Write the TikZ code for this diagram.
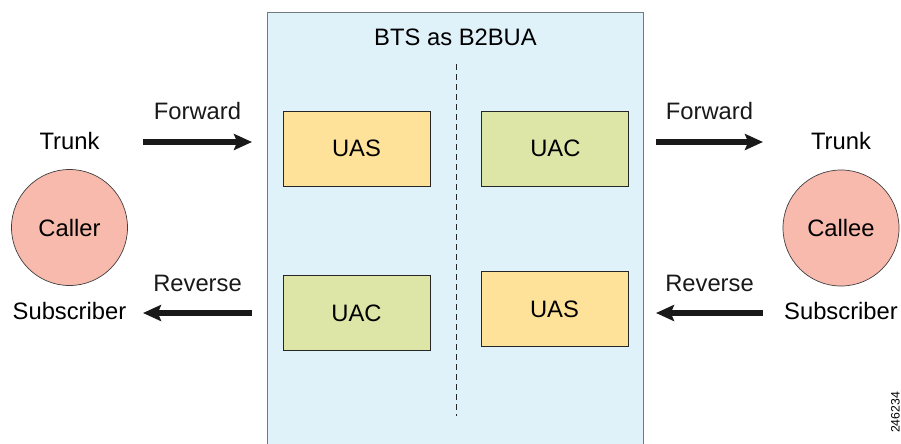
\documentclass[tikz,border=0pt]{standalone}
\usepackage{fontspec}
\setmainfont{Liberation Sans}
\usepackage{tikz}
\usetikzlibrary{arrows.meta,positioning}
\definecolor{btsblue}{RGB}{223,242,250}
\definecolor{btsedge}{RGB}{112,122,128}
\definecolor{uasyellow}{RGB}{255,226,153}
\definecolor{uacgreen}{RGB}{222,230,167}
\definecolor{partypink}{RGB}{248,186,172}
\tikzstyle{lbl} = [inner sep=0pt, font=\fontsize{16.9}{20}\selectfont]
\tikzstyle{uabox} = [rectangle, minimum width=3.675cm, minimum height=1.875cm, text centered, draw=black!85, line width=0.6pt, font=\fontsize{16.9}{20}\selectfont]
\tikzstyle{party} = [circle, minimum size=2.9cm, inner sep=0pt, draw=black!75, fill=partypink, line width=0.5pt, font=\fontsize{16.9}{20}\selectfont]
\tikzstyle{flow} = [line width=0.13cm, -{Stealth[length=0.45cm,width=0.4cm,inset=0.08cm]}, color=black!90]

\begin{document}
\begin{tikzpicture}[x=0.025cm, y=-0.025cm, node distance=0.4cm]
\clip (0,0) rectangle (901,443);
% BTS box
\node[rectangle, anchor=north west, minimum width=9.4cm, minimum height=11.4cm, draw=btsedge, fill=btsblue, line width=0.6pt] (bts) at (267,12) {};
\node[lbl, below=0.425cm of bts.north] (title) {BTS as B2BUA};
\coordinate (dtop) at (456,64);
\coordinate (dbot) at (456,416);
\draw[black!85, line width=0.5pt, dash pattern=on 0.15cm off 0.1cm] (dtop) -- (dbot);

% User agents
\node[uabox, fill=uasyellow] (uasL) at (356.5,148.5) {UAS};
\node[uabox, fill=uacgreen, right=1.275cm of uasL] (uacR) {UAC};
\node[uabox, fill=uacgreen] (uacL) at (356.5,313) {UAC};
\node[uabox, fill=uasyellow] (uasR) at (554.5,309) {UAS};

% Parties
\node[party] (caller) at (69.5,227.5) {Caller};
\node[party] (callee) at (841,228) {Callee};
\node[lbl, above=0.49cm of caller] (trunkL) {Trunk};
\node[lbl, below=0.4cm of caller] (subL) {Subscriber};
\node[lbl, above=0.49cm of callee] (trunkR) {Trunk};
\node[lbl, below=0.4cm of callee] (subR) {Subscriber};

% Flows
\coordinate (fwdLa) at (143,142);
\coordinate (fwdLb) at (252,142);
\coordinate (revLa) at (252,313);
\coordinate (revLb) at (143,313);
\coordinate (fwdRa) at (656,142);
\coordinate (fwdRb) at (763,142);
\coordinate (revRa) at (763,313);
\coordinate (revRb) at (656,313);
\draw[flow] (fwdLa) -- node[lbl, above=0.5cm] (fwdLtxt) {Forward} (fwdLb);
\draw[flow] (revLa) -- node[lbl, above=0.475cm] (revLtxt) {Reverse} (revLb);
\draw[flow] (fwdRa) -- node[lbl, above=0.5cm] (fwdRtxt) {Forward} (fwdRb);
\draw[flow] (revRa) -- node[lbl, above=0.475cm] (revRtxt) {Reverse} (revRb);

\node[inner sep=0pt, rotate=90, font=\fontsize{8.7}{10}\selectfont] (figno) at (895.5,412.5) {246234};
\end{tikzpicture}
\end{document}
